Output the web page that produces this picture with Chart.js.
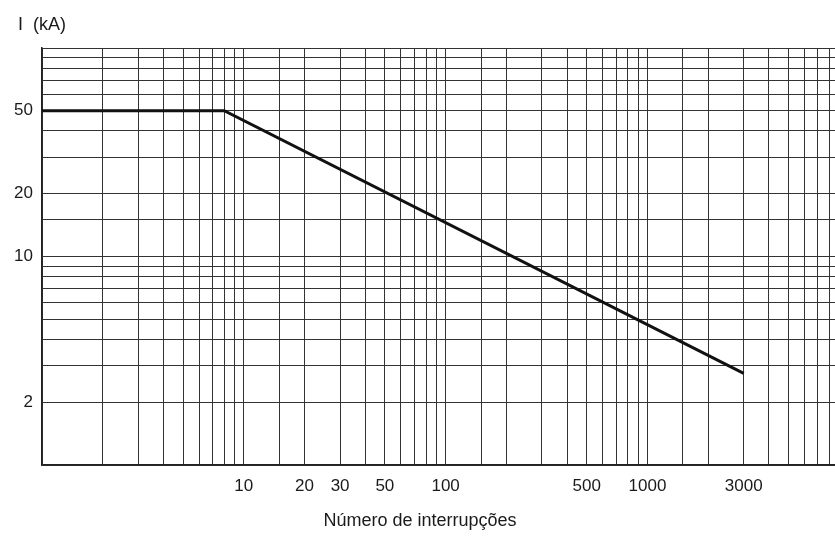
<!DOCTYPE html>
<html lang="pt">
<head>
<meta charset="UTF-8">
<title>Número de interrupções</title>
<script src="https://cdn.jsdelivr.net/npm/chart.js@4.4.1/dist/chart.umd.min.js"></script>
<style>
  body { margin: 0; background: #fff; }
</style>
</head>
<body>
<canvas id="myChart" width="835" height="536"></canvas>
<script>
// curve: I (kA) against number of interruptions
const interruptions = [1, 8, 3000];
const currentKA = [50, 50, 2.75];

// labelled ticks
const xTickLabels = [10, 20, 30, 50, 100, 500, 1000, 3000];
const yTickLabels = [2, 10, 20, 50];

const FONT = '"Liberation Sans", Arial, sans-serif';
const gridColor = '#333';

function hasLabel(list, v) {
    return list.some(t => Math.abs(t - v) / t < 1e-6);
}

const extraText = {
    id: 'extraText',
    afterDraw(chart) {
        const ctx = chart.ctx;
        ctx.save();
        ctx.fillStyle = '#1a1a1a';
        ctx.font = '18px ' + FONT;
        ctx.textBaseline = 'middle';
        ctx.textAlign = 'left';
        ctx.fillText('I  (kA)', 18, 25);
        ctx.textAlign = 'center';
        ctx.fillText('Número de interrupções', 420, 521);
        ctx.restore();
    }
};

const myChart = new Chart(document.getElementById('myChart').getContext('2d'), {
    type: 'line',
    data: {
        datasets: [{
            data: interruptions.map((x, i) => ({ x: x, y: currentKA[i] })),
            borderColor: '#111',
            borderWidth: 3,
            pointRadius: 0,
            tension: 0,
            fill: false
        }]
    },
    options: {
        responsive: false,
        animation: false,
        layout: { padding: { top: 48, right: 0, left: 0, bottom: 0 } },
        plugins: {
            legend: { display: false },
            tooltip: { enabled: false }
        },
        scales: {
            x: {
                type: 'logarithmic',
                min: 1,
                max: 8500,
                grid: { color: gridColor, lineWidth: 1, drawTicks: false },
                border: { color: '#222', width: 1.5 },
                ticks: {
                    autoSkip: false,
                    maxRotation: 0,
                    padding: 11,
                    color: '#1a1a1a',
                    font: { family: FONT, size: 17 },
                    callback: v => hasLabel(xTickLabels, v) ? String(v) : ''
                },
                afterFit: scale => {
                    scale.height = 71;
                    scale.paddingLeft = 0;
                    scale.paddingRight = 0;
                }
            },
            y: {
                type: 'logarithmic',
                min: 1,
                max: 100,
                grid: { color: gridColor, lineWidth: 1, drawTicks: false },
                border: { color: '#222', width: 1.5 },
                ticks: {
                    autoSkip: false,
                    padding: 9,
                    color: '#1a1a1a',
                    font: { family: FONT, size: 17 },
                    callback: v => hasLabel(yTickLabels, v) ? String(v) : ''
                },
                afterFit: scale => {
                    scale.width = 42;
                    scale.paddingTop = 0;
                    scale.paddingBottom = 0;
                }
            }
        }
    },
    plugins: [extraText]
});
</script>
</body>
</html>
